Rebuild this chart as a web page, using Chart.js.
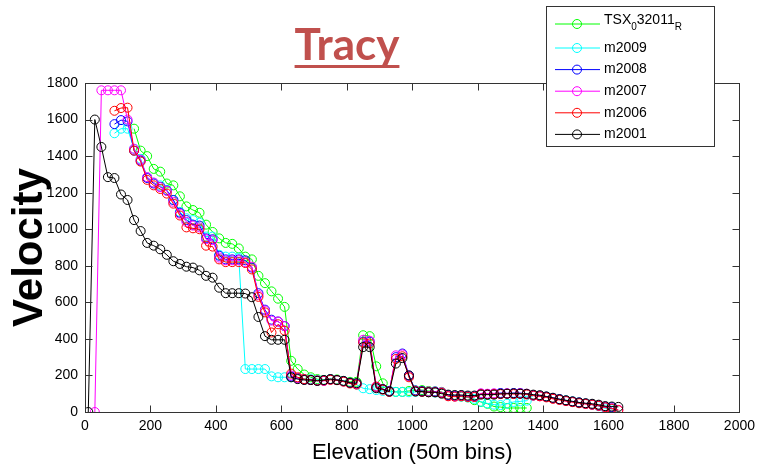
<!DOCTYPE html>
<html>
<head>
<meta charset="utf-8">
<script src="https://cdn.jsdelivr.net/npm/chart.js@4"></script>
<style>
  html, body { margin: 0; padding: 0; background: #fff; }
</style>
</head>
<body>
<canvas id="chart" width="761" height="470"></canvas>
<script>
// elevation bins (x)
const elevation = [
  10, 30, 50, 70, 90, 110, 130, 150, 170, 190,
  210, 230, 250, 270, 290, 310, 330, 350, 370, 390,
  410, 430, 450, 470, 490, 510, 530, 550, 570, 590,
  610, 630, 650, 670, 690, 710, 730, 750, 770, 790,
  810, 830, 850, 870, 890, 910, 930, 950, 970, 990,
  1010, 1030, 1050, 1070, 1090, 1110, 1130, 1150, 1170, 1190,
  1210, 1230, 1250, 1270, 1290, 1310, 1330, 1350, 1370, 1390,
  1410, 1430, 1450, 1470, 1490, 1510, 1530, 1550, 1570, 1590,
  1610, 1630
];

const tsx032011 = [
  null, null, null, null, null, null, null, 1550, 1430, 1400,
  1330, 1315, 1250, 1240, 1180, 1125, 1105, 1090, 1025, 985,
  950, 925, 920, 895, 850, 835, 745, 705, 660, 620,
  575, 280, 235, 205, 190, 180, 175, 180, 178, 170,
  165, 165, 420, 415, 250, 157, 115, 110, 110, 115,
  118, 120, 115, 112, 110, 90, 88, 85, 80, 65,
  55, 45, 30, 27, 22, 22, 22, 22, null, null,
  null, null, null, null, null, null, null, null, null, null,
  null, null
];

const m2009 = [
  null, null, null, null, 1525, 1550, 1550, 1440, 1385, 1285,
  1255, 1240, 1215, 1160, 1095, 1060, 1050, 1035, 960, 960,
  860, 850, 850, 845, 235, 235, 235, 235, 195, 190,
  190, 190, 185, 180, 180, 175, 175, 180, 175, 170,
  160, 150, 130, 125, 120, 115, 110, 110, 110, 108,
  110, 110, 108, 106, 104, 90, 86, 84, 80, 72,
  56, 47, 40, 38, 45, 55, 58, 62, 90, 90,
  84, 76, 70, 64, 58, 52, 46, 40, 32, 20,
  15, null
];

const m2008 = [
  null, null, null, null, 1575, 1597, 1590, 1430, 1375, 1280,
  1250, 1232, 1212, 1160, 1090, 1050, 1025, 1020, 950, 945,
  855, 835, 835, 835, 830, 790, 650, 560, 505, 495,
  470, 195, 185, 178, 175, 172, 172, 178, 175, 168,
  160, 155, 385, 385, 135, 125, 115, 300, 320, 200,
  118, 115, 110, 112, 105, 92, 88, 90, 86, 86,
  100, 98, 100, 104, 102, 104, 104, 98, 92, 88,
  84, 76, 70, 62, 57, 52, 46, 42, 36, 30,
  26, null
];

const m2007 = [
  null, 0, 1760, 1760, 1760, 1760, 1600, 1440, 1380, 1285,
  1255, 1230, 1210, 1150, 1085, 1040, 1020, 1010, 945, 940,
  845, 830, 830, 830, 820, 795, 640, 555, 500, 495,
  470, 200, 185, 178, 175, 172, 170, 178, 175, 168,
  158, 152, 395, 390, 140, 125, 112, 310, 315, 195,
  115, 112, 112, 110, 108, 88, 85, 88, 84, 84,
  102, 100, 102, 100, 102, 100, 102, 100, 90, 86,
  82, 74, 68, 60, 55, 50, 45, 40, 34, 25,
  20, 12
];

const m2006 = [
  null, null, null, null, 1648, 1663, 1665, 1430, 1370, 1270,
  1240, 1220, 1195, 1140, 1075, 1010, 1005, 1000, 910, 905,
  835, 820, 820, 820, 815, 780, 630, 545, 435, 480,
  445, 210, 190, 180, 176, 172, 172, 176, 174, 166,
  156, 150, 380, 375, 138, 122, 110, 290, 305, 190,
  114, 110, 108, 108, 104, 86, 84, 86, 82, 82,
  98, 96, 98, 98, 100, 98, 100, 96, 90, 86,
  80, 72, 66, 60, 54, 48, 44, 40, 34, 26,
  18, 10
];

const m2001 = [
  0, 1600, 1450, 1285, 1280, 1190, 1160, 1050, 990, 925,
  910, 890, 860, 825, 810, 795, 790, 775, 745, 735,
  680, 650, 650, 650, 648, 628, 520, 415, 395, 395,
  395, 190, 180, 175, 175, 170, 175, 180, 175, 170,
  160, 158, 355, 355, 130, 125, 112, 265, 295, 200,
  112, 112, 108, 108, 100, 95, 93, 93, 90, 90,
  95, 95, 95, 100, 100, 102, 100, 100, 95, 92,
  85, 78, 70, 64, 58, 52, 48, 45, 40, 32,
  30, 28
];

const seriesNames = ["TSX_{0}32011_{R}", "m2009", "m2008", "m2007", "m2006", "m2001"];
const seriesColors = ["#00ff00", "#00ffff", "#0000ff", "#ff00ff", "#ff0000", "#000000"];
const seriesValues = [tsx032011, m2009, m2008, m2007, m2006, m2001];

const xTicks = [0, 200, 400, 600, 800, 1000, 1200, 1400, 1600, 1800, 2000];
const yTicks = [0, 200, 400, 600, 800, 1000, 1200, 1400, 1600, 1800];

const FONT = "'Liberation Sans', Arial, sans-serif";

const datasets = seriesValues.map((vals, k) => ({
  label: seriesNames[k],
  data: elevation.map((e, i) => ({ x: e, y: vals[i] })).filter(p => p.y !== null),
  borderColor: seriesColors[k],
  backgroundColor: "rgba(0,0,0,0)",
  pointBorderColor: seriesColors[k],
  pointBackgroundColor: "rgba(0,0,0,0)",
  borderWidth: 1,
  pointRadius: 4.5,
  pointBorderWidth: 1,
  tension: 0,
  order: seriesValues.length - k
}));

// draws a label with _{...} subscripts
function drawRich(ctx, text, x, y) {
  const parts = text.split(/(_\{[^}]*\})/).filter(s => s.length);
  const hasSub = parts.some(s => s.startsWith("_{"));
  const base = hasSub ? y - 4 : y;
  ctx.textBaseline = "middle";
  ctx.textAlign = "left";
  for (const p of parts) {
    if (p.startsWith("_{")) {
      const s = p.slice(2, -1);
      ctx.font = "10px " + FONT;
      ctx.fillText(s, x, base + 7);
      x += ctx.measureText(s).width;
    } else {
      ctx.font = "14px " + FONT;
      ctx.fillText(p, x, base);
      x += ctx.measureText(p).width;
    }
  }
}

const matlabLook = {
  id: "matlabLook",
  afterDraw(chart) {
    const { ctx, chartArea: a, scales: { x, y } } = chart;
    ctx.save();

    // axes box + inward ticks
    ctx.strokeStyle = "#333";
    ctx.lineWidth = 1;
    const L = Math.round(a.left) + 0.5, R = Math.round(a.right) + 0.5;
    const T = Math.round(a.top) + 0.5, B = Math.round(a.bottom) + 0.5;
    ctx.strokeRect(L, T, R - L, B - T);
    ctx.beginPath();
    x.ticks.forEach(t => {
      const px = Math.round(x.getPixelForValue(t.value)) + 0.5;
      ctx.moveTo(px, B); ctx.lineTo(px, B - 7);
      ctx.moveTo(px, T); ctx.lineTo(px, T + 7);
    });
    y.ticks.forEach(t => {
      const py = Math.round(y.getPixelForValue(t.value)) + 0.5;
      ctx.moveTo(L, py); ctx.lineTo(L + 7, py);
      ctx.moveTo(R, py); ctx.lineTo(R - 7, py);
    });
    ctx.stroke();

    // title
    ctx.font = "bold 44px Lato, sans-serif";
    ctx.fillStyle = "#c0504d";
    ctx.textAlign = "center";
    ctx.textBaseline = "alphabetic";
    ctx.fillText("Tracy", 347, 60);
    const w = ctx.measureText("Tracy").width;
    ctx.fillRect(347 - w / 2, 65, w, 3);

    // legend
    const bx = 546.5, by = 6.5, bw = 168, bh = 140;
    ctx.fillStyle = "#fff";
    ctx.fillRect(bx, by, bw, bh);
    ctx.strokeStyle = "#333";
    ctx.strokeRect(bx, by, bw, bh);
    chart.data.datasets.forEach((ds, k) => {
      const ry = k === 0 ? 24 : 48 + (k - 1) * 21.6;
      ctx.strokeStyle = ds.borderColor;
      ctx.lineWidth = 1;
      ctx.beginPath();
      ctx.moveTo(555, ry); ctx.lineTo(600, ry);
      ctx.stroke();
      ctx.beginPath();
      ctx.arc(577, ry, 4.5, 0, Math.PI * 2);
      ctx.stroke();
      ctx.fillStyle = "#000";
      drawRich(ctx, ds.label, 604, ry);
    });
    ctx.restore();
  }
};

new Chart(document.getElementById("chart"), {
  type: "line",
  data: { datasets },
  options: {
    responsive: false,
    animation: false,
    layout: { padding: { top: 83, right: 20, left: 0, bottom: 0 } },
    plugins: { legend: { display: false }, tooltip: { enabled: false } },
    scales: {
      x: {
        type: "linear",
        min: 0, max: 2000,
        afterBuildTicks: s => { s.ticks = xTicks.map(v => ({ value: v })); },
        afterFit: s => { s.height = 58; },
        grid: { display: false, drawTicks: false },
        border: { display: false },
        ticks: {
          color: "#000", padding: 6, maxRotation: 0,
          font: { family: FONT, size: 14 },
          callback: v => String(v)
        },
        title: {
          display: true, text: "Elevation (50m bins)", color: "#000",
          font: { family: FONT, size: 22 }, padding: { top: 0, bottom: 4 }
        }
      },
      y: {
        min: 0, max: 1800,
        afterBuildTicks: s => { s.ticks = yTicks.map(v => ({ value: v })); },
        afterFit: s => { s.width = 85; },
        grid: { display: false, drawTicks: false },
        border: { display: false },
        ticks: {
          color: "#000", padding: 7,
          font: { family: FONT, size: 14 },
          callback: v => String(v)
        },
        title: {
          display: true, text: "Velocity", color: "#000",
          font: { family: FONT, size: 42, weight: "bold" }, padding: { top: 5, bottom: 0 }
        }
      }
    }
  },
  plugins: [matlabLook]
});
</script>
</body>
</html>
